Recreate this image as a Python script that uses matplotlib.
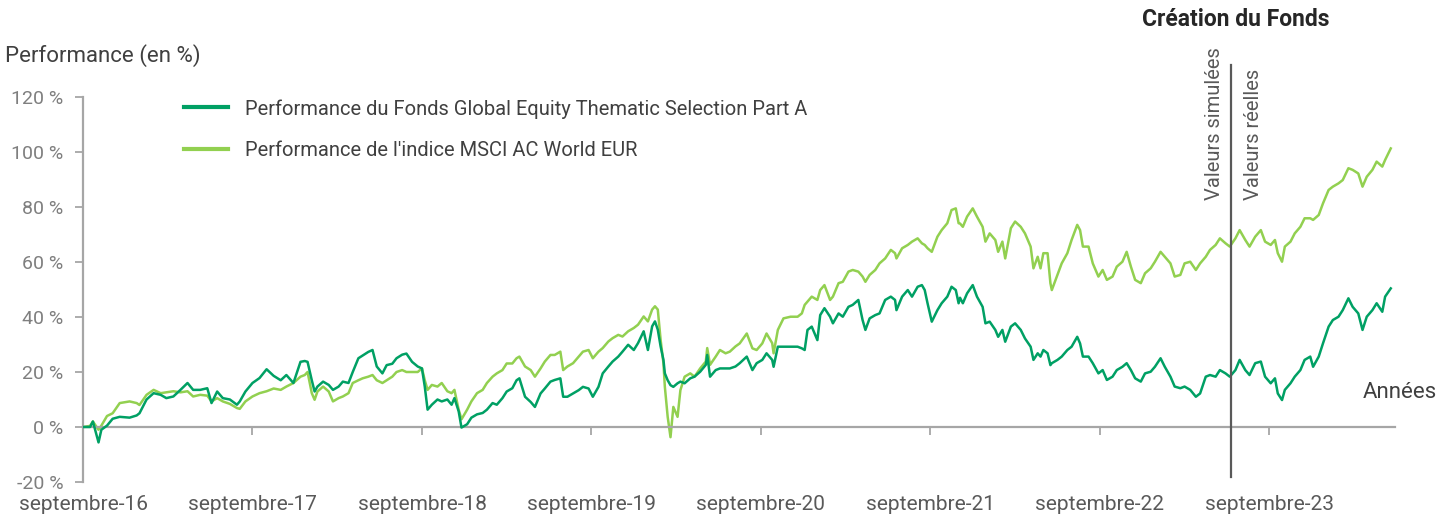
import matplotlib
matplotlib.use("Agg")
import matplotlib.pyplot as plt

# Time axis: months elapsed since September 2016
months = [0, 0.5, 0.7, 1.1, 1.3, 1.7, 2.1, 2.6, 3.3, 3.8, 4.0, 4.5, 5.0, 5.5, 5.9, 6.4, 6.9, 7.4, 7.8, 8.3,
          8.8, 9.1, 9.5, 9.9, 10.4, 10.9, 11.1, 11.5, 12.0, 12.5, 13.0, 13.5, 14.0, 14.4, 14.9,
          15.4, 15.7, 15.9, 16.2, 16.4, 16.6, 17.0, 17.4, 17.7, 18.1, 18.4, 18.8, 19.1, 19.5, 19.8,
          20.2, 20.5, 20.8, 21.2, 21.5, 21.9, 22.2, 22.6, 22.9, 23.3, 23.7, 24.0, 24.2, 24.4, 24.7,
          25.1, 25.4, 25.8, 26.1, 26.3, 26.6, 26.8, 27.2, 27.5, 27.9, 28.3, 28.6, 29.0, 29.3, 29.7,
          30.0, 30.4, 30.7,
          30.9, 31.3, 31.7, 32.0, 32.4, 32.7, 33.1, 33.4, 33.8, 34.0, 34.3, 34.7, 35.1, 35.4, 35.8,
          36.1, 36.5, 36.8, 37.2, 37.5, 37.9, 38.2, 38.6, 39.0, 39.3, 39.7, 40.0, 40.3, 40.5, 40.7,
          40.9, 41.1, 41.2, 41.4, 41.6, 41.8, 42.1, 42.3, 42.6, 43.0, 43.3, 43.7, 44.1, 44.2, 44.4,
          44.8, 45.1, 45.5, 45.8, 46.2,
          46.5, 47.0, 47.4, 47.7, 48.1, 48.4, 48.8, 48.9, 49.2, 49.6, 50.1, 50.6, 50.9, 51.1, 51.3,
          51.6, 52.0, 52.2, 52.5, 52.9, 53.1, 53.5, 53.8, 54.2, 54.5, 54.9, 55.2, 55.4, 55.7, 56.1,
          56.4, 56.8, 57.2, 57.5, 57.6, 58.0, 58.4, 58.7, 59.1, 59.4, 59.6, 59.8, 60.1, 60.5, 60.8,
          61.2, 61.5, 61.8, 62.0,
          62.1, 62.3, 62.6, 63.0, 63.3, 63.7, 63.9, 64.2, 64.6, 64.8, 65.1, 65.3, 65.7, 66.0, 66.4,
          66.7, 67.1, 67.3, 67.6, 67.8, 68.0, 68.3, 68.5, 68.6, 69.0, 69.3, 69.7, 70.0, 70.4, 70.6,
          70.8, 71.2, 71.5, 71.9, 72.2, 72.5, 72.9, 73.2, 73.6, 73.9, 74.2, 74.5, 74.9, 75.2, 75.6,
          75.9, 76.3, 76.6, 77.0, 77.3,
          77.7, 78.0, 78.4, 78.8, 79.1, 79.5, 79.8, 80.2, 80.5, 80.9, 81.2, 81.6, 81.9, 82.3, 82.6,
          83.0, 83.4, 83.7, 84.1, 84.4, 84.6, 84.9, 85.1, 85.5, 85.8, 86.2, 86.5, 86.9, 87.1, 87.5,
          87.8, 88.2, 88.5, 88.9, 89.2, 89.6, 89.9, 90.3, 90.6, 90.9, 91.3, 91.6, 92.0, 92.2, 92.6]

fonds = [0, 0, 2, -5.6, -1, 0.5, 3, 3.7, 3.4, 4.2, 5, 10, 12.3, 11.7, 10.5, 11.1, 13.5, 16, 13.5, 13.5,
         14.1, 8.7, 12.9, 10.5, 10, 8.1, 9.3, 12.9, 16, 17.8, 21, 18.6, 17, 18.9, 16,
         23.7, 24, 23.7, 17, 12.9, 14.7, 16.5, 15.3, 13.5, 14.7, 16.5, 16, 20, 25, 26,
         27.3, 28, 22, 19.5, 22.5, 23, 25, 26.3, 26.7, 23.7, 22, 21.3, 14.7, 6.3, 8.1,
         10, 9.3, 10, 8.1, 10.5, 5.7, -0.2, 1, 3.4, 4.6, 5.1, 6.3, 8.7, 8.1, 10.5,
         12.9, 14.1, 17,
         17.7, 11, 9.1, 7.3, 12.2, 14, 16.5, 17.1, 17.7, 11, 11, 12.2, 13.4, 14.6, 14,
         11, 14.6, 19.5, 22, 23.8, 25.6, 27.4, 29.9, 28, 30.5, 34.8, 28, 36.6, 38.4, 35.4,
         29.3, 24.4, 19.5, 17, 15.2, 14.6, 15.9, 16.5, 15.9, 17.7, 18.3, 20.1, 22.6, 26.2, 18.3,
         20.7, 21.3, 21.3, 21.3, 22,
         23.2, 25.6, 20.7, 23.2, 24.4, 26.8, 24.4, 21.9, 29.2, 29.2, 29.2, 29.2, 28.6, 28, 35.3,
         36.5, 31.6, 40.7, 43.2, 40.1, 37.7, 41.3, 40.1, 43.7, 44.4, 46.2, 38.9, 35.3, 39.5, 40.7,
         41.3, 46.2, 47.4, 46.2, 42.5, 47.4, 49.8, 47.4, 51, 51.6, 49.8, 45, 38.3, 42.5, 45,
         47.4, 51, 49.8, 45,
         47, 45, 48.6, 51.6, 47.4, 43.7, 37.7, 38.3, 35.3, 32.8, 35.3, 31, 36.5, 37.7, 35.3,
         32.2, 29.2, 24.4, 26.8, 25.6, 28, 26.8, 22.5, 23.2, 24.4, 25.6, 28, 29.2, 32.8, 30.4,
         25.6, 25.6, 23.2, 19.5, 20.7, 17.1, 18.3, 20.7, 21.9, 23.2, 20.7, 17.7, 16.5, 19.5, 20.1,
         21.9, 25, 21.9, 18.3, 14.7,
         14.1, 14.7, 13.5, 11, 12.2, 18.3, 18.9, 18.3, 20.7, 19.5, 18.3, 20.7, 24.4, 20.7, 18.9,
         23.2, 23.8, 18.3, 15.9, 17.7, 12.2, 9.8, 13.5, 15.9, 18.3, 20.7, 24.4, 25.6, 21.9, 25.6,
         30.4, 36.5, 38.9, 40.1, 42.5, 46.8, 43.7, 41.3, 35.3, 40.1, 42.5, 45, 41.9, 47.4, 50.4]

indice = [0, 0.4, 2, -1, 0.5, 4, 5, 8.7, 9.3, 8.7, 8, 11.7, 13.5, 12.3, 12.6, 13, 12.6, 13, 11.1, 11.7,
          11.4, 9.3, 10.5, 9.3, 8.4, 6.9, 6.6, 9.3, 11.1, 12.3, 13, 14, 13.5, 14.7, 16,
          18.3, 18.9, 20, 12.3, 9.9, 12.9, 14.7, 12.9, 9.3, 10.5, 11.1, 12.3, 16, 17, 17.7,
          18.3, 18.9, 17, 16, 17, 18.3, 20, 20.7, 20, 20, 20, 21.3, 17, 13.5, 15.3,
          14.7, 16, 13, 12.3, 13.5, 6.3, 2.8, 6.3, 9.3, 12.3, 13.5, 16, 18.3, 19.5, 20.7,
          23.1, 23.1, 25,
          25.6, 22, 20.7, 18.3, 21.3, 23.8, 26.2, 26.2, 27.4, 20.7, 22, 23.2, 25.6, 27.4, 28,
          25, 27.4, 28.7, 31.1, 32.3, 33.5, 32.9, 34.8, 36, 37.2, 40.2, 38.4, 42.7, 43.9, 42.7,
          31.7, 23.2, 14.6, 3.7, -3.7, 7.3, 3.7, 13.4, 18.3, 19.5, 18.3, 21.3, 23.8, 28.7, 22.6,
          25.6, 28, 26.8, 27.4, 29.3,
          30.4, 34, 28.6, 28, 30.4, 34, 30.5, 26.8, 35.3, 39.5, 40.1, 40.1, 41.3, 44.4, 45.6,
          47.4, 46.2, 49.8, 51.6, 46.2, 47.4, 52.3, 52.8, 56.5, 57.1, 56.5, 54.7, 52.8, 55.3, 57.1,
          59.5, 61.3, 64.4, 63.2, 61.3, 65, 66.2, 67.4, 68.6, 66.8, 66.2, 65, 63.7, 69.2, 71.6,
          74.1, 78.9, 79.5, 74.1,
          74, 72.8, 76.5, 79.5, 76.5, 72.8, 67.4, 70.4, 68, 63.7, 67.4, 61.3, 72.3, 74.7, 72.8,
          70.4, 65.6, 57.7, 61.9, 57.7, 63.2, 63.2, 52.3, 49.8, 55.3, 59.5, 63.2, 68, 73.5, 71.6,
          65.6, 65.6, 59.5, 54.7, 57.1, 53.5, 54.7, 58.3, 60.1, 63.7, 58.3, 53.5, 52.3, 55.9, 57.7,
          60.1, 63.7, 61.9, 59.5, 54.7,
          55.3, 59.5, 60.1, 57.1, 59.5, 61.9, 64.4, 66.2, 68.6, 66.8, 65.6, 68.6, 71.6, 68, 65.6,
          69.2, 71.6, 67.4, 66.2, 68, 63.2, 60.1, 65.6, 67.4, 70.4, 72.8, 75.9, 75.9, 75.3, 77.1,
          81.3, 86.2, 87.4, 88.6, 89.8, 94.1, 93.5, 92.2, 87.4, 91, 93.5, 96.5, 94.7, 97.1, 101.3]

tick_months = [0, 12, 24, 36, 48, 60, 72, 84]
tick_labels = ["septembre-16", "septembre-17", "septembre-18", "septembre-19",
               "septembre-20", "septembre-21", "septembre-22", "septembre-23"]
y_ticks = [-20, 0, 20, 40, 60, 80, 100, 120]
creation_month = 81.3

label_fonds = "Performance du Fonds Global Equity Thematic Selection Part A"
label_indice = "Performance de l'indice MSCI AC World EUR"

plt.rcParams['font.family'] = ['Roboto', 'DejaVu Sans']

W, H = 1453, 520
fig = plt.figure(figsize=(W / 100, H / 100), dpi=100)
ax = fig.add_axes([83 / W, 1 - 482 / H, (1395 - 83) / W, (482 - 97) / H])

c_fonds = "#00a064"
c_ind = "#92d050"
axis_grey = "#a6a6a6"

ax.plot(months, fonds, color=c_fonds, lw=1.8, label=label_fonds, zorder=3)
ax.plot(months, indice, color=c_ind, lw=1.8, label=label_indice, zorder=2)

ax.set_xlim(0, 92.9)
ax.set_ylim(-20, 120)

for s in ['top', 'right']:
    ax.spines[s].set_visible(False)
ax.spines['left'].set_color(axis_grey)
ax.spines['left'].set_linewidth(1.6)
ax.spines['bottom'].set_position(('data', 0))
ax.spines['bottom'].set_color(axis_grey)
ax.spines['bottom'].set_linewidth(1.6)

ax.set_yticks(y_ticks)
ax.set_yticklabels([f"{v} %" for v in y_ticks])
ax.tick_params(axis='y', colors=axis_grey, length=6, width=1.3, labelsize=14, labelcolor="#7f7f7f", pad=8)

ax.set_xticks(tick_months)
ax.set_xticklabels(tick_labels)
ax.tick_params(axis='x', colors=axis_grey, length=6, width=1.3, labelsize=15, labelcolor="#595959", pad=43)

# creation line
ax.plot([creation_month, creation_month], [-18.2, 131.6], color="#595959", lw=1.6, clip_on=False, zorder=4)
ax.text(80.1, 82.5, "Valeurs simulées", rotation=90, ha='center', va='bottom', fontsize=14.5, color="#595959")
ax.text(82.9, 82.5, "Valeurs réelles", rotation=90, ha='center', va='bottom', fontsize=14.5, color="#595959")

fig.text(1236 / W, 1 - 19 / H, "Création du Fonds", ha='center', va='center', fontsize=16.5,
         fontweight='bold', color="#262626")
fig.text(5 / W, 1 - 56 / H, "Performance (en %)", ha='left', va='center', fontsize=16, color="#404040")
fig.text(1437 / W, 1 - 393 / H, "Années", ha='right', va='center', fontsize=16, color="#404040")

leg = ax.legend(loc='upper left', bbox_to_anchor=(184 / W, 1 - 99 / H), bbox_transform=fig.transFigure,
                frameon=False, fontsize=14.5, handlelength=2.2, handletextpad=0.85, labelspacing=1.1,
                borderpad=0, borderaxespad=0)
for t in leg.get_texts():
    t.set_color("#404040")
for l in leg.get_lines():
    l.set_linewidth(3)

fig.savefig("out.png", dpi=100)
